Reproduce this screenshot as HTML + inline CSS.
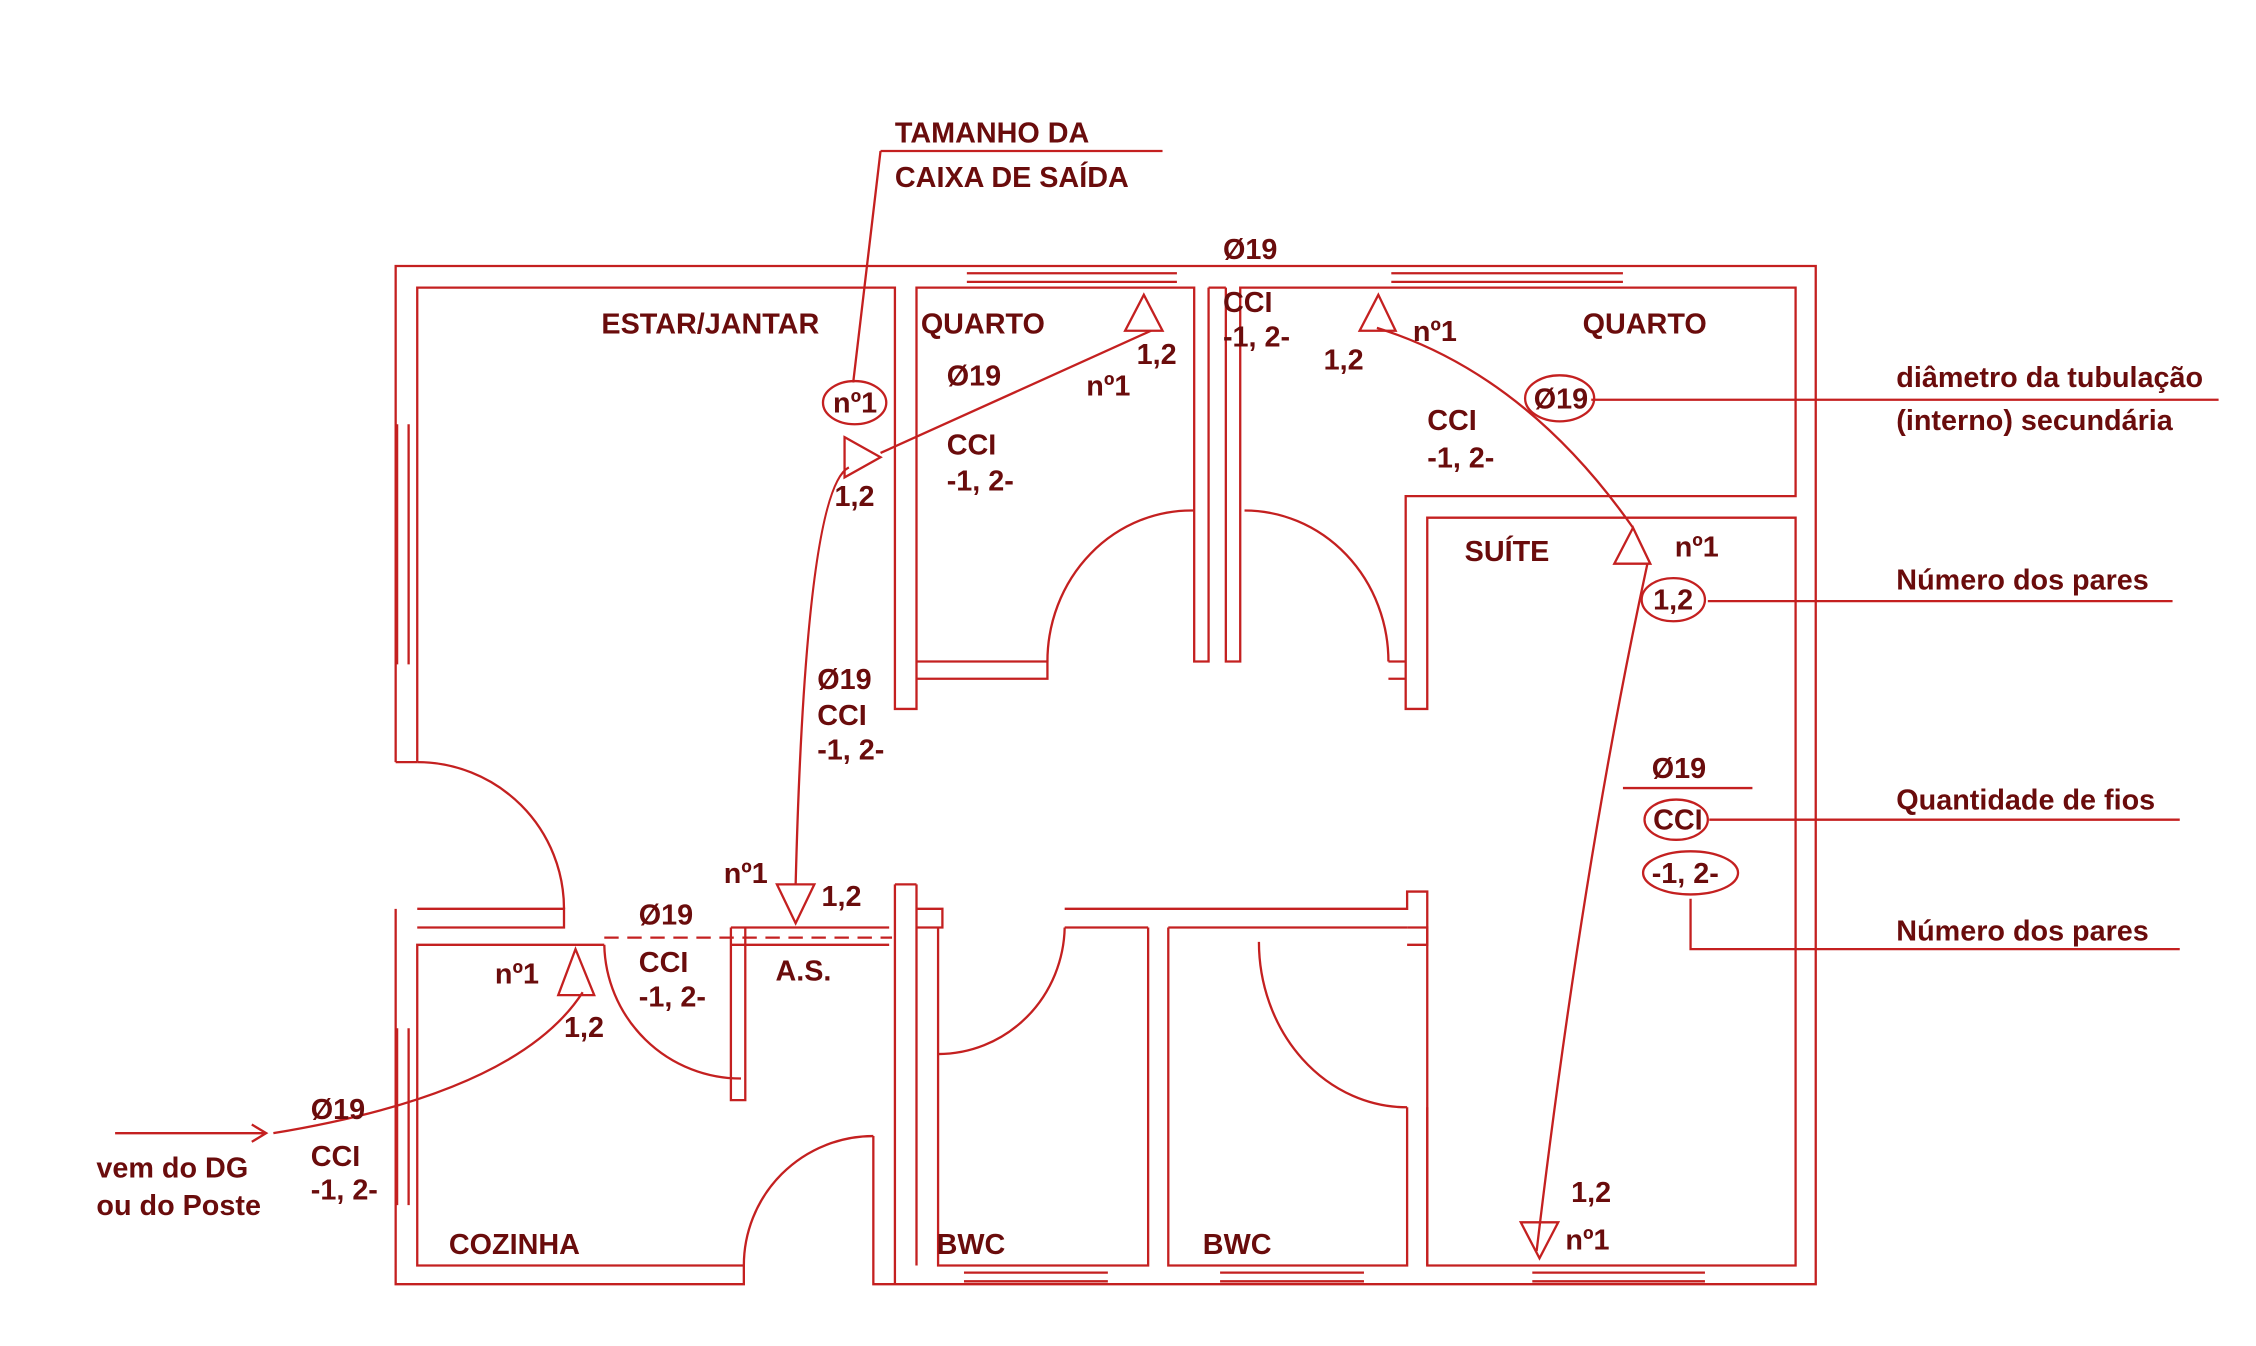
<!DOCTYPE html>
<html><head><meta charset="utf-8"><style>
html,body{margin:0;padding:0;background:#fff}
svg{display:block}
text{font-family:"Liberation Sans",sans-serif;font-weight:bold;font-size:20px;fill:#6a0c0c;letter-spacing:0px}
</style></head><body>
<svg width="2256" height="1346" viewBox="0 0 1568 936" preserveAspectRatio="none" xmlns="http://www.w3.org/2000/svg">
<g stroke="#c42020" stroke-width="1.6" fill="none">
<path d="M275 530 V185 H1262 V893 H607 V790"/>
<path d="M290 530 V200 H622 V493 H637 V200 H830 V460 H840 V200"/>
<path d="M852 200 V460 H862 V200 H1248 V345 H977 V493 H992 V360 H1248 V880 H992 V645 H978"/>
<path d="M840 200 H852"/>
<path d="M275 530 H290"/>
<path d="M276 295 V462 M284 295 V462"/>
<path d="M275 632 V893 H517 V880 H290 V657 H420"/>
<path d="M276 715 V838 M284 715 V838"/>
<path d="M290 632 H392 V645 H290"/>
<path d="M672 190 H818 M672 196 H818 M967 190 H1128 M967 196 H1128"/>
<path d="M637 460 H728 V472 H637"/>
<path d="M965 460 H977"/>
<path d="M965 472 H977"/>
<path d="M728 460 A100 105 0 0 1 830 355"/>
<path d="M865 355 A100 105 0 0 1 965 460"/>
<path d="M290 530 A102 102 0 0 1 392 632"/>
<path d="M420 657 A95 95 0 0 0 515 750"/>
<path d="M517 880 A90 90 0 0 1 607 790"/>
<path d="M740 645 A88 90 0 0 1 652 733"/>
<path d="M875 655 A103 115 0 0 0 978 770"/>
<path d="M508 645 V765 H518 V645"/>
<path d="M508 657 H618 M508 645 H618"/>
<path d="M622 615 V893 M637 615 V880"/>
<path d="M622 615 H637"/>
<path d="M637 632 H655 V645 H637"/>
<path d="M652 645 V880 H798 V645 M812 645 V880 H978 V770"/>
<path d="M740 632 H978 V620 H992 V657 H978"/>
<path d="M740 645 H798 M812 645 H978"/>
<path d="M992 770 V880"/>
<path d="M670 885 H770 M670 891 H770 M848 885 H948 M848 891 H948 M1065 885 H1185 M1065 891 H1185"/>
<path d="M800 230 L612 315"/>
<path d="M590 325 Q560 340 553 615"/>
<path d="M420 652 H620" stroke-dasharray="10 6"/>
<path d="M190 788 Q360 760 405 690"/>
<path d="M80 788 H185 M175 782 L185 788 L175 794"/>
<path d="M957 228 Q1060 260 1135 367"/>
<path d="M1145 392 Q1100 600 1068 870"/>
<path d="M795 205 L782 230 H808 Z"/>
<path d="M958 205 L945 230 H970 Z"/>
<path d="M1135 367 L1122 392 H1147 Z"/>
<path d="M587 304 L612 318 L587 332 Z"/>
<path d="M540 615 H566 L553 642 Z"/>
<path d="M1057 850 H1083 L1070 875 Z"/>
<path d="M400 660 L388 692 H413 Z"/>
<path d="M612 105 H808 M612 105 L593 266"/>
<path d="M1106 278 H1542"/>
<path d="M1187 418 H1510"/>
<path d="M1188 570 H1515"/>
<path d="M1175 625 V660 H1515"/>
<path d="M1128 548 H1218"/>
<ellipse cx="594" cy="280" rx="22" ry="15"/>
<ellipse cx="1084" cy="277" rx="24" ry="16"/>
<ellipse cx="1163" cy="417" rx="22" ry="15"/>
<ellipse cx="1165" cy="570" rx="22" ry="14"/>
<ellipse cx="1175" cy="607" rx="33" ry="15"/>
</g>
<text x="622" y="99">TAMANHO DA</text>
<text x="622" y="130">CAIXA DE SAÍDA</text>
<text x="850" y="180">Ø19</text>
<text x="850" y="217">CCI</text>
<text x="850" y="241">-1, 2-</text>
<text x="418" y="232">ESTAR/JANTAR</text>
<text x="640" y="232">QUARTO</text>
<text x="1100" y="232">QUARTO</text>
<text x="790" y="253">1,2</text>
<text x="920" y="257">1,2</text>
<text x="982" y="237">nº1</text>
<text x="658" y="268">Ø19</text>
<text x="755" y="275">nº1</text>
<text x="579" y="287">nº1</text>
<text x="1066" y="284">Ø19</text>
<text x="992" y="299">CCI</text>
<text x="992" y="325">-1, 2-</text>
<text x="658" y="316">CCI</text>
<text x="658" y="341">-1, 2-</text>
<text x="580" y="352">1,2</text>
<text x="1318" y="269">diâmetro da tubulação</text>
<text x="1318" y="299">(interno) secundária</text>
<text x="1018" y="390">SUÍTE</text>
<text x="1164" y="387">nº1</text>
<text x="1149" y="424">1,2</text>
<text x="1318" y="410">Número dos pares</text>
<text x="568" y="479">Ø19</text>
<text x="568" y="504">CCI</text>
<text x="568" y="528">-1, 2-</text>
<text x="1148" y="541">Ø19</text>
<text x="1149" y="577">CCI</text>
<text x="1148" y="614">-1, 2-</text>
<text x="1318" y="563">Quantidade de fios</text>
<text x="1318" y="654">Número dos pares</text>
<text x="503" y="614">nº1</text>
<text x="571" y="630">1,2</text>
<text x="444" y="643">Ø19</text>
<text x="444" y="676">CCI</text>
<text x="444" y="700">-1, 2-</text>
<text x="539" y="682">A.S.</text>
<text x="344" y="684">nº1</text>
<text x="392" y="721">1,2</text>
<text x="216" y="778">Ø19</text>
<text x="216" y="811">CCI</text>
<text x="216" y="834">-1, 2-</text>
<text x="67" y="819">vem do DG</text>
<text x="67" y="845">ou do Poste</text>
<text x="312" y="872">COZINHA</text>
<text x="651" y="872">BWC</text>
<text x="836" y="872">BWC</text>
<text x="1092" y="836">1,2</text>
<text x="1088" y="869">nº1</text>
</svg>
</body></html>
